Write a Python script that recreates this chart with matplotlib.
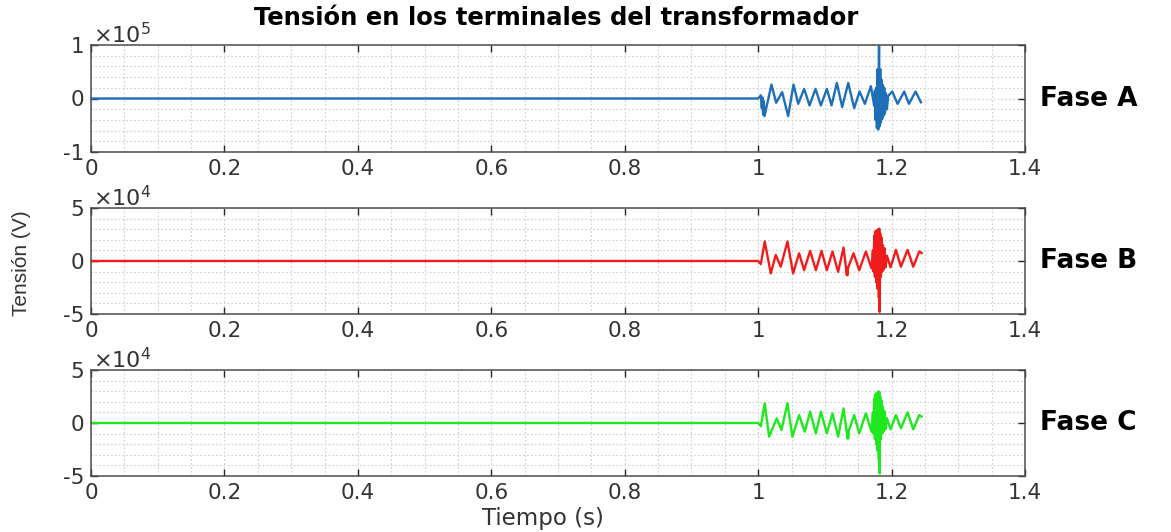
import matplotlib
matplotlib.use("Agg")
import matplotlib.pyplot as plt
from matplotlib.ticker import MultipleLocator

# ---------------- data ----------------
# Phase A, values in units of 1e5 V
ta = [0.0, 1.000, 1.004, 1.0055, 1.0065, 1.0075, 1.0085, 1.0095, 1.020, 1.027, 1.036,
      1.045, 1.053, 1.060, 1.069, 1.077, 1.086, 1.094, 1.103, 1.110, 1.118,
      1.126, 1.135, 1.144, 1.152, 1.160, 1.169,
      1.1740, 1.1750, 1.1760, 1.1770, 1.1780, 1.1790, 1.1800, 1.1812, 1.1820,
      1.1830, 1.1840, 1.1850, 1.1860, 1.1870, 1.1880, 1.1890, 1.1900, 1.1915,
      1.1930, 1.1950, 1.201, 1.209, 1.219, 1.226, 1.236, 1.244]
va = [0.0, 0.0, 0.06, -0.18, 0.02, -0.30, -0.05, -0.33, 0.26, -0.08, 0.12,
      -0.33, 0.26, -0.10, 0.18, -0.13, 0.18, -0.13, 0.18, -0.13, 0.29,
      -0.16, 0.29, -0.18, 0.13, -0.10, 0.23,
      -0.14, 0.15, -0.40, 0.20, -0.55, 0.55, -0.58, 0.98, -0.52,
      0.55, -0.45, 0.35, -0.38, 0.25, -0.32, 0.20, -0.28, 0.10,
      -0.20, 0.05, 0.13, -0.10, 0.13, -0.10, 0.13, -0.07]

# Phase B, values in units of 1e4 V
tb = [0.0, 1.000, 1.004, 1.0099, 1.0189, 1.0264, 1.0339, 1.0439, 1.0524, 1.0614,
      1.0689, 1.0779, 1.0865, 1.0950, 1.1030, 1.1115, 1.1199, 1.1280,
      1.1330, 1.1335, 1.1340, 1.1345, 1.1430, 1.1515, 1.1615, 1.1700,
      1.1720, 1.1730, 1.1740, 1.1750, 1.1760, 1.1770, 1.1780, 1.1790, 1.1800,
      1.1810, 1.1815, 1.1822, 1.1830, 1.1840, 1.1850, 1.1860, 1.1870, 1.1880,
      1.1895, 1.1910, 1.1930, 1.1985, 1.2065, 1.2140, 1.2240, 1.2325, 1.2415, 1.2450]
vb = [0.0, 0.0, -0.3, 1.84, -1.17, 0.57, -0.54, 1.84, -1.17, 0.73,
      -0.86, 0.95, -0.86, 0.95, -0.86, 0.89, -1.02, 1.27,
      -1.33, -0.6, -1.33, -0.7, 0.73, -0.86, 0.89, -0.70,
      1.0, -1.0, 2.4, -1.5, 2.8, -2.0, 2.9, -2.6, 3.0,
      -3.5, 3.05, -4.8, 2.6, -1.5, 2.2, -1.0, 1.5, -0.8,
      1.2, -0.6, 0.5, -0.6, 1.05, -0.54, 1.05, -0.54, 0.90, 0.75]

# Phase C, values in units of 1e4 V
tc = [0.0, 1.000, 1.004, 1.0099, 1.0164, 1.0279, 1.0349, 1.0439, 1.0514, 1.0614,
      1.0699, 1.0779, 1.0865, 1.0940, 1.1030, 1.1115, 1.1199, 1.1280,
      1.1340, 1.1345, 1.1350, 1.1355, 1.1440, 1.1515, 1.1615, 1.1700,
      1.1720, 1.1730, 1.1740, 1.1750, 1.1760, 1.1770, 1.1780, 1.1790, 1.1800,
      1.1810, 1.1815, 1.1822, 1.1830, 1.1840, 1.1850, 1.1860, 1.1870, 1.1880,
      1.1895, 1.1910, 1.1930, 1.1985, 1.2065, 1.2140, 1.2240, 1.2325, 1.2415, 1.2450]
vc = [0.0, 0.0, -0.3, 1.86, -1.29, 0.44, -0.66, 1.86, -1.29, 0.75,
      -0.82, 1.07, -0.97, 1.07, -0.97, 0.91, -1.29, 1.38,
      -1.45, -0.7, -1.45, -0.8, 0.75, -0.97, 0.91, -0.82,
      1.0, -1.0, 2.3, -1.5, 2.7, -2.0, 2.85, -2.6, 2.95,
      -3.5, 2.95, -4.75, 2.5, -1.5, 2.1, -1.0, 1.5, -0.8,
      1.1, -0.6, 0.45, -0.6, 0.75, -0.50, 1.0, -0.60, 0.75, 0.60]

phases = ["Fase A", "Fase B", "Fase C"]
exponents = [5, 4, 4]
ylims = [1, 5, 5]
yminor = [0.2, 1, 1]
colors = ["#1f6fb8", "#f01c1c", "#1ee81e"]
xticks = [0, 0.2, 0.4, 0.6, 0.8, 1, 1.2, 1.4]
xticklabels = ["0", "0.2", "0.4", "0.6", "0.8", "1", "1.2", "1.4"]

title = "Tensión en los terminales del transformador"
xlabel = "Tiempo (s)"
ylabel = "Tensión (V)"

# ---------------- figure ----------------
plt.rcParams['font.family'] = ['DejaVu Sans']
W, H = 1171, 532
fig = plt.figure(figsize=(W / 100, H / 100), dpi=100)
fig.patch.set_facecolor("white")

boxes = [(45, 152), (208, 314), (370, 476)]
left, right = 91, 1025
series = [(ta, va), (tb, vb), (tc, vc)]
edge = "#4d4d4d"
tickc = "#262626"

for i, (top, bot) in enumerate(boxes):
    ax = fig.add_axes([left / W, 1 - bot / H, (right - left) / W, (bot - top) / H])
    t, v = series[i]
    ax.plot(t, v, color=colors[i], lw=1.7, solid_joinstyle="round")
    ax.set_xlim(0, 1.4)
    L = ylims[i]
    ax.set_ylim(-L, L)
    ax.set_xticks(xticks)
    ax.set_xticklabels(xticklabels)
    ax.set_yticks([-L, 0, L])
    ax.set_yticklabels([str(-L), "0", str(L)])
    ax.xaxis.set_minor_locator(MultipleLocator(0.05))
    ax.yaxis.set_minor_locator(MultipleLocator(yminor[i]))
    ax.grid(which="both", linestyle=(0, (1.5, 2.0)), color="#cfcfcf", lw=0.8)
    ax.set_axisbelow(True)
    ax.tick_params(which="major", direction="in", length=5, width=1.0,
                   top=True, right=True, colors=tickc, labelsize=15.5, pad=5)
    ax.tick_params(which="minor", length=0)
    for lab in ax.get_xticklabels() + ax.get_yticklabels():
        lab.set_color("#333333")
    for s in ax.spines.values():
        s.set_color(edge)
        s.set_linewidth(1.1)
    # exponent label
    fig.text((left + 2) / W, 1 - (top - 10) / H,
             r"$\times$10$^{%d}$" % exponents[i], fontsize=16, color="#333333",
             ha="left", va="center")
    # phase label
    zero_y = (top + bot) / 2
    fig.text(1040 / W, 1 - zero_y / H, phases[i], fontsize=19, fontweight="bold",
             color="black", ha="left", va="center")

fig.text(556 / W, 1 - 18 / H, title, fontsize=17.5, fontweight="bold",
         ha="center", va="center", color="black")
fig.text(543 / W, 1 - 519 / H, xlabel, fontsize=16.5, ha="center", va="center",
         color="#333333")
fig.text(22 / W, 1 - 263 / H, ylabel, fontsize=15, rotation=90, ha="center",
         va="center", color="#333333", family="Liberation Sans")

fig.savefig("out.png", dpi=100, facecolor="white")
